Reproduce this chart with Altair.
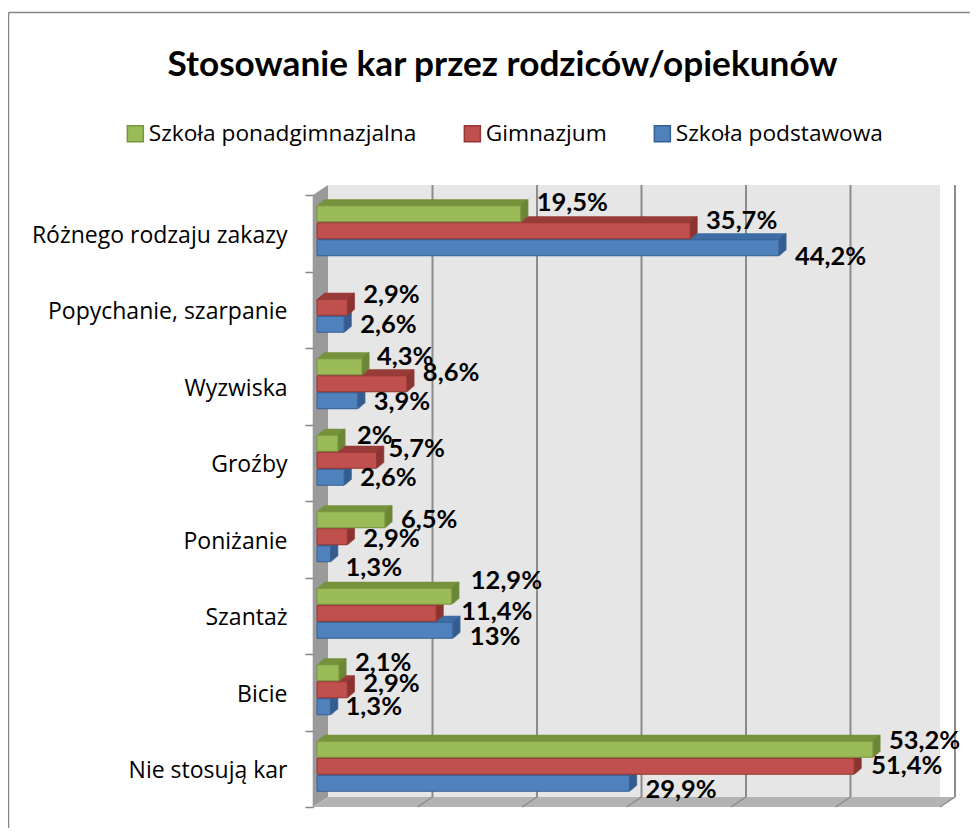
import altair as alt
import pandas as pd

categories = ["Różnego rodzaju zakazy", "Popychanie, szarpanie", "Wyzwiska", "Groźby",
              "Poniżanie\u00a0", "Szantaż", "Bicie", "Nie stosują kar"]
series = ["Szkoła ponadgimnazjalna", "Gimnazjum", "Szkoła podstawowa"]
green_vals = [19.5, None, 4.3, 2, 6.5, 12.9, 2.1, 53.2]
red_vals = [35.7, 2.9, 8.6, 5.7, 2.9, 11.4, 2.9, 51.4]
blue_vals = [44.2, 2.6, 3.9, 2.6, 1.3, 13, 1.3, 29.9]
grid_vals = [10, 20, 30, 40, 50, 60]

# hand-placed data labels of the original (pixel nudges, kept apart from the data)
green_dx = [16, 0, 15, 19, 16, 19, 16, 16]
red_dx = [16, 16, 16, 12, 16, 25, 16, 17]
blue_dx = [16, 16, 16, 16, 15, 17, 15, 16]
green_ly = [203, 0, 357, 436, 520, 581, 663, 741]
red_ly = [221, 295, 373, 449, 539, 612, 684, 766]
blue_ly = [257, 325, 402, 478, 568, 637, 707, 790]

PX = 10.45  # px per percentage point
W, H = 627, 612
TOPY = 195
FONT = "Open Sans"
BOLD = "Lato"

rows = []
for s, vals, dxs, lys in [(series[0], green_vals, green_dx, green_ly),
                          (series[1], red_vals, red_dx, red_ly),
                          (series[2], blue_vals, blue_dx, blue_ly)]:
    for c, v, dx, ly in zip(categories, vals, dxs, lys):
        if v is None:
            continue
        rows.append(dict(cat=c, s=s, v=v, lx=v + dx / PX, ly=ly - TOPY,
                         txt=f"{v:g}".replace(".", ",") + "%"))
df = pd.DataFrame(rows)

Y = alt.Y("cat:N", sort=categories, scale=alt.Scale(domain=categories, paddingInner=0, paddingOuter=0), title=None,
          axis=alt.Axis(domain=True, domainColor="#868686", domainWidth=1.5,
                        ticks=True, tickColor="#868686", tickWidth=1.5, tickSize=8,
                        tickBand="extent", grid=False, labelFont=FONT, labelFontSize=23,
                        labelColor="#000000", labelPadding=18, labelLimit=300, labelOffset=2))
XS = alt.Scale(domain=[0, 60], nice=False, zero=True)
X = alt.X("v:Q", scale=XS, axis=None, title=None)

FILL = alt.Color("s:N", scale=alt.Scale(domain=series, range=["#9bbb59", "#c0504d", "#4f81bd"]),
                 legend=alt.Legend(title=None, orient="none", legendX=-189, legendY=-73, direction="horizontal",
                                   columns=3, columnPadding=44, symbolType="square", symbolSize=256,
                                   symbolStrokeWidth=1.5, labelFont=FONT, labelFontSize=22.7, labelColor="#000000",
                                   labelOffset=2, labelLimit=300))
STROKE = alt.Stroke("s:N", scale=alt.Scale(domain=series, range=["#7a9440", "#953735", "#376092"]), legend=None)

layers = []

# outer frame
frame = pd.DataFrame({"a": [1]})
layers.append(alt.Chart(frame).mark_rule(color="#868686", strokeWidth=1.5).encode(
    x=alt.value(-304.5), y=alt.value(-182.5), y2=alt.value(H + 21)))
layers.append(alt.Chart(frame).mark_rule(color="#868686", strokeWidth=1.5).encode(
    x=alt.value(-304.5), x2=alt.value(W + 30), y=alt.value(-182.5)))

# back wall
layers.append(alt.Chart(pd.DataFrame({"v": [0], "v2": [60]})).mark_rect(fill="#e6e6e6", xOffset=15).encode(
    x=X, x2="v2:Q", y=alt.value(-10), y2=alt.value(H - 10)))

# left wall and floor
left = pd.DataFrame({"px": [0, 15], "t": [0, -10], "b": [H, H - 10]})
layers.append(alt.Chart(left).mark_area(color="#9a9a9a").encode(
    x=alt.X("px:Q", scale=None, axis=None), y=alt.Y("t:Q", scale=None, axis=None, stack=None), y2="b:Q"))
floor = pd.DataFrame({"py": [H, H - 10], "a": [0, 15], "b": [W, W + 15]})
layers.append(alt.Chart(floor).mark_area(color="#b3b3b3", orient="horizontal").encode(
    y=alt.Y("py:Q", scale=None, axis=None), x=alt.X("a:Q", scale=None, axis=None, stack=None), x2="b:Q"))

# gridlines on the wall and their run across the floor
grid = pd.DataFrame({"v": grid_vals})
layers.append(alt.Chart(grid).mark_rule(color="#8c8c8c", strokeWidth=2, xOffset=15).encode(
    x=X, y=alt.value(-10), y2=alt.value(H - 10)))
layers.append(alt.Chart(grid).transform_calculate(v2=f"datum.v + {15 / PX}").mark_rule(
    color="#8c8c8c", strokeWidth=1.5).encode(x=X, x2="v2:Q", y=alt.value(H), y2=alt.value(H - 10)))

# y axis carrier
layers.append(alt.Chart(pd.DataFrame({"cat": categories})).mark_tick(opacity=0).encode(y=Y))

# bars: back to front, blue, red, green, each with its top and side
BAR_H = 17
spec = [(series[2], 14.5, "#3f6ea6", "#335a8a"),
        (series[1], -2.5, "#983c3a", "#8a3331"),
        (series[0], -19.5, "#76923c", "#6a8436")]
for name, dy, top, side in spec:
    d = df[df.s == name]
    for k in range(7, 0, -1):
        off = k * 6 / 7
        layers.append(alt.Chart(d).mark_bar(height=BAR_H, color=top, xOffset=4 + k, yOffset=dy - off).encode(x=X, y=Y))
    for k in range(7, 0, -1):
        off = k * 6 / 7
        layers.append(alt.Chart(d).mark_tick(orient="vertical", size=BAR_H, thickness=1.5, color=side,
                                             xOffset=4 + k, yOffset=dy - off).encode(x=X, y=Y))
    layers.append(alt.Chart(d).mark_bar(height=BAR_H - 1, xOffset=4, yOffset=dy, strokeWidth=1).encode(
        x=X, y=Y, color=FILL, stroke=STROKE))

# data labels
layers.append(alt.Chart(df).mark_text(font=BOLD, fontWeight="bold", fontSize=25.5, color="#000000", align="left",
                                      baseline="middle", xOffset=4).encode(
    x=alt.X("lx:Q", scale=XS, axis=None),
    y=alt.Y("ly:Q", scale=None, axis=None),
    text="txt:N"))

chart = alt.layer(*layers).properties(
    width=W, height=H,
    padding={"left": 305, "top": 187, "right": 30, "bottom": 21},
    autosize=alt.AutoSizeParams(type="none"),
    title=alt.TitleParams("Stosowanie kar przez rodziców/opiekunów", font=BOLD, fontWeight="bold", fontSize=35.2,
                          color="#000000", anchor="middle", frame="group", dx=-124, dy=71, offset=0),
).configure_view(stroke=None)

chart.save("out.html", embed_options={"renderer": "svg", "actions": False})
